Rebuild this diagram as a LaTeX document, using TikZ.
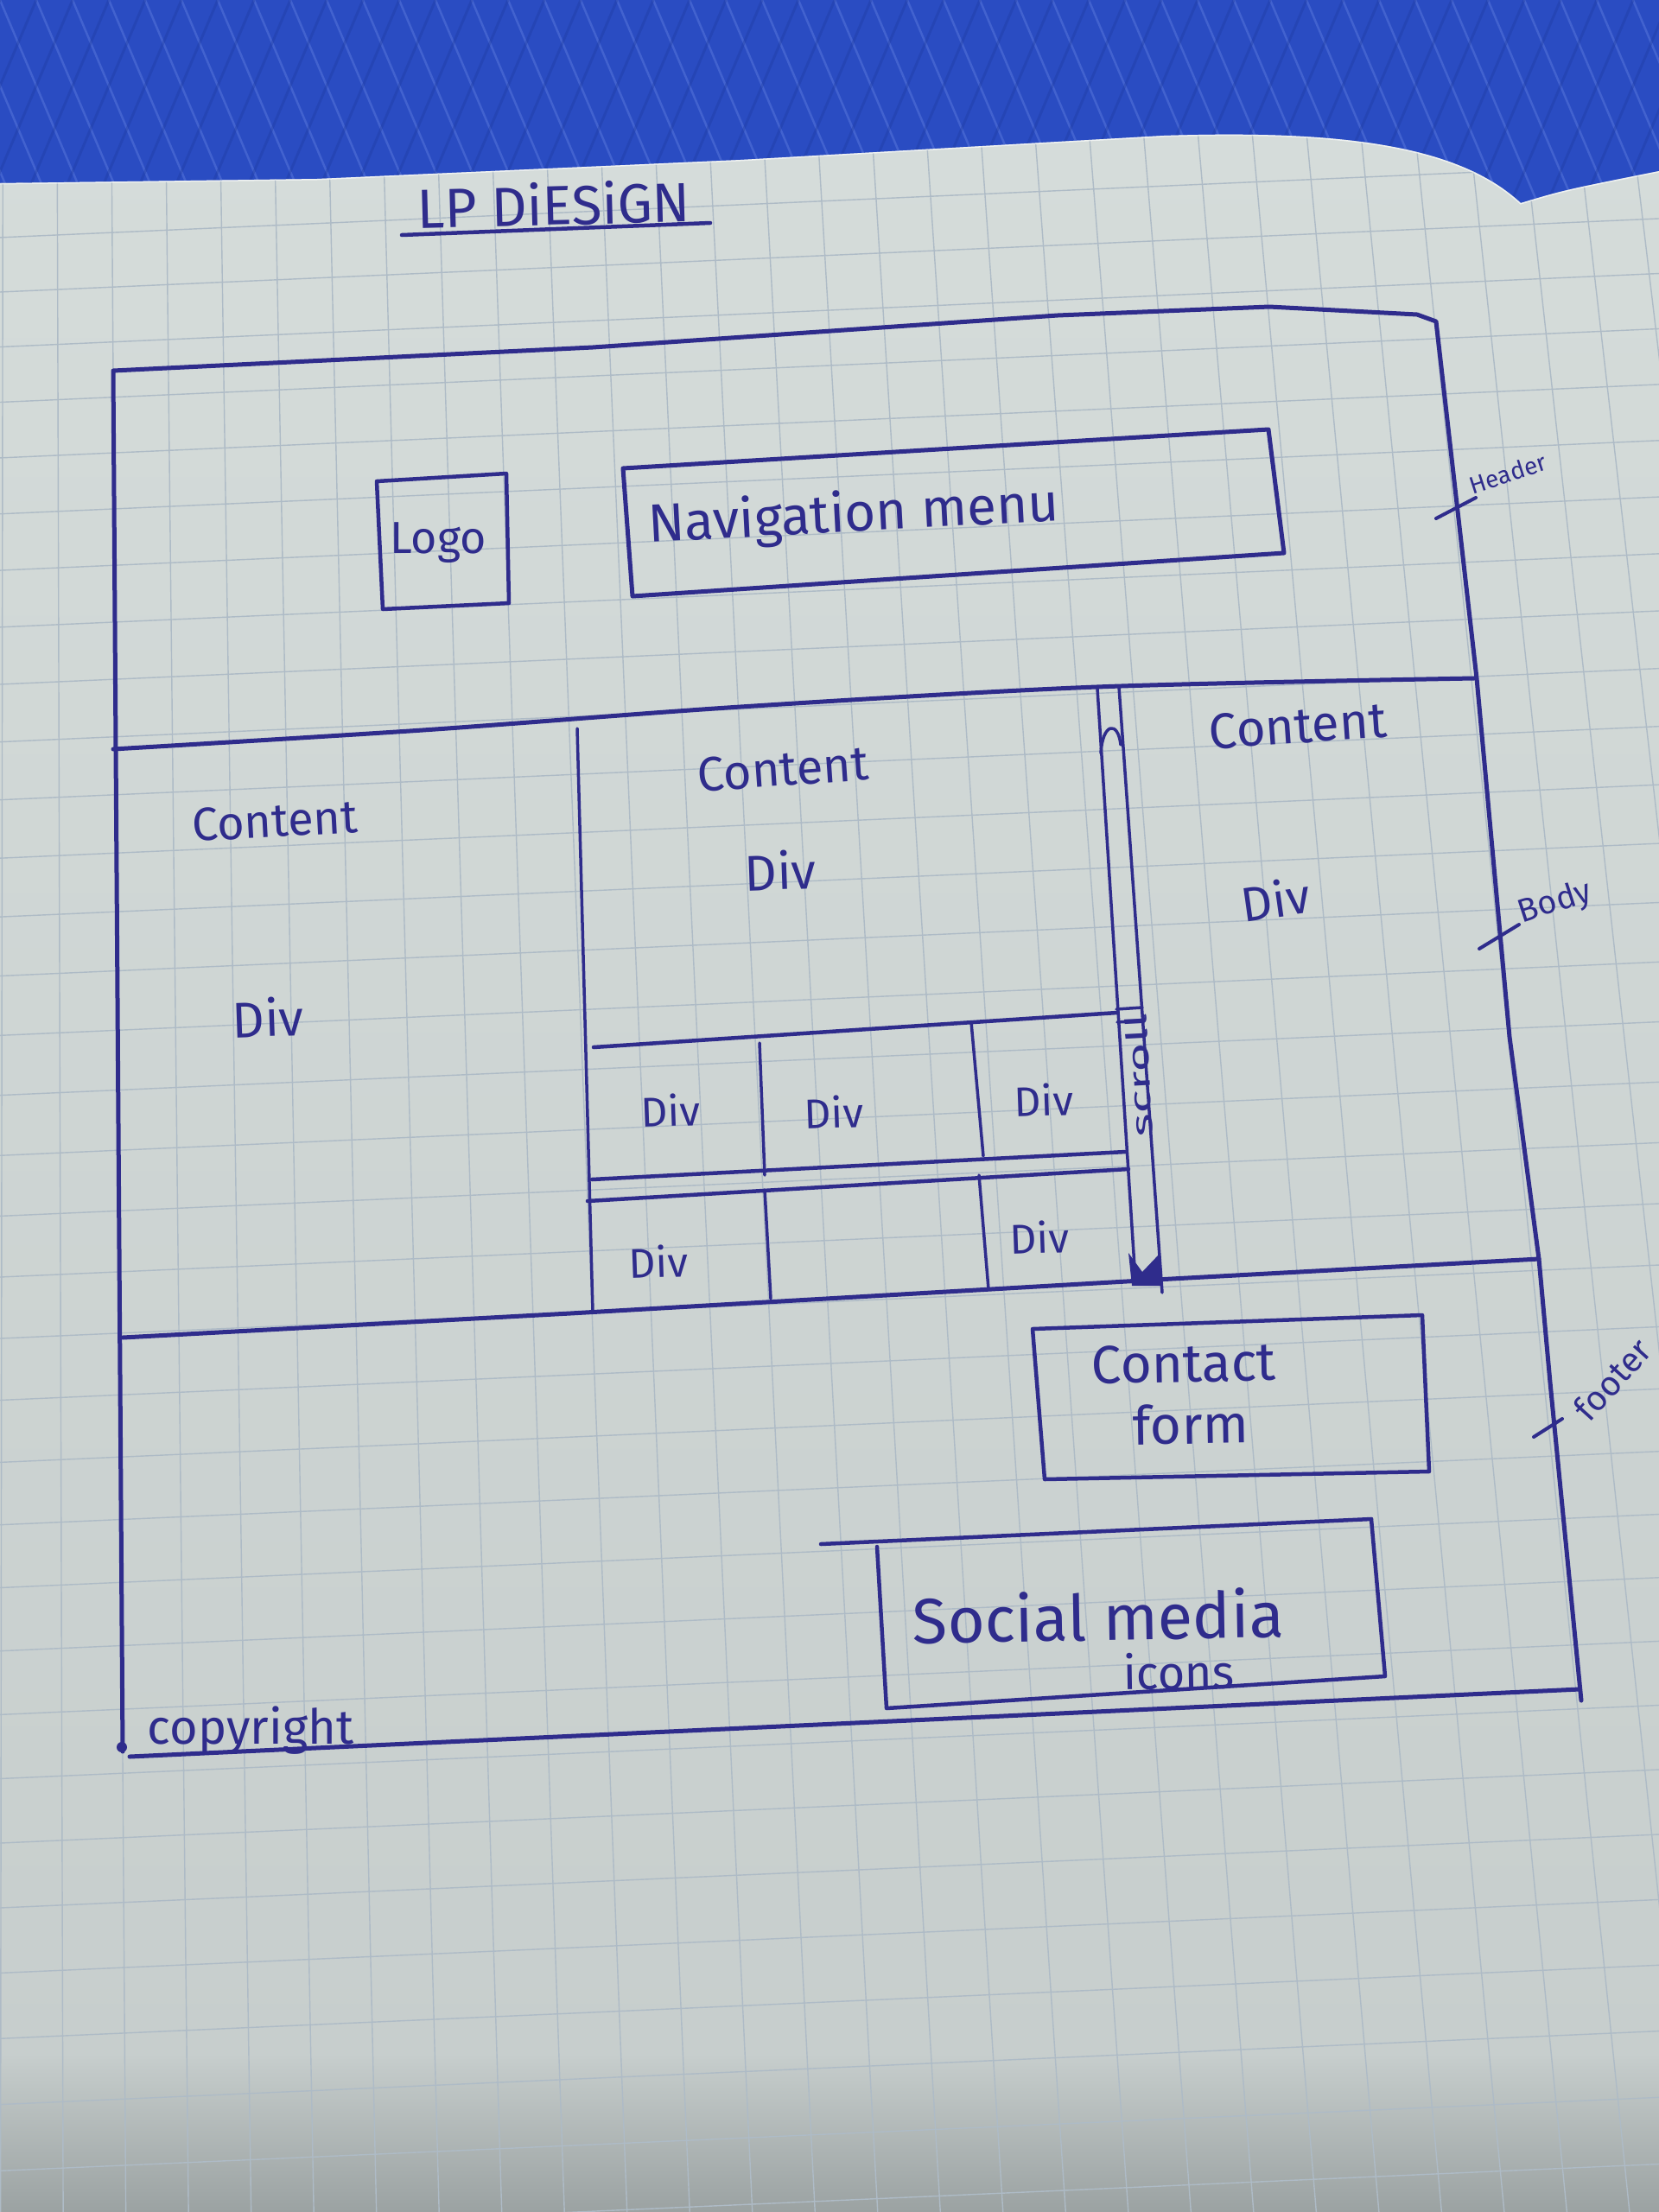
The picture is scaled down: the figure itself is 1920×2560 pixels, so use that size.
\documentclass[tikz,border=0pt]{standalone}
\usepackage{fontspec}
\setmainfont{Fira Sans}
\definecolor{inkc}{HTML}{2F2C8C}
\definecolor{papertop}{HTML}{D5DCDA}
\definecolor{paperbot}{HTML}{C6CDCC}
\definecolor{papershadow}{HTML}{9BA2A2}
\definecolor{gridc}{HTML}{AEBBC6}
\definecolor{mat}{HTML}{2A4CC2}
\definecolor{matlight}{HTML}{6F8CE8}
\definecolor{matdark}{HTML}{1E3A9E}
\begin{document}
\begin{tikzpicture}[x=1pt,y=-1pt,
  ink/.style={draw=inkc, line width=5pt, line cap=round, line join=round},
  thinink/.style={draw=inkc, line width=3.5pt, line cap=round, line join=round},
  hand/.style={text=inkc, inner sep=0pt, font=\fontsize{#1}{#1}\selectfont},
  gridline/.style={draw=gridc, line width=1.4pt}]
\useasboundingbox (0,0) rectangle (1920,2560);

% woven mat behind the notebook
\fill[mat] (0,0) rectangle (1920,260);
\begin{scope}
  \clip (0,0) rectangle (1920,260);
  \foreach \i in {-10,...,60}
    \draw[matlight, line width=2.5pt, opacity=0.35] (\i*42,0) -- ++(110,260);
  \foreach \i in {-2,...,70}
    \draw[matdark, line width=3pt, opacity=0.35] (\i*42,0) -- ++(-110,260);
\end{scope}

% notebook page
\shade[top color=papertop, bottom color=paperbot]
  (0,212) -- (367,207) -- (857,185) -- (1347,157)
  .. controls (1560,150) and (1690,170) .. (1760,235)
  .. controls (1810,220) .. (1920,198) -- (1920,2560) -- (0,2560) -- cycle;
\begin{scope}
  \clip (0,212) -- (367,207) -- (857,185) -- (1347,157)
  .. controls (1560,150) and (1690,170) .. (1760,235)
  .. controls (1810,220) .. (1920,198) -- (1920,2560) -- (0,2560) -- cycle;
  \shade[top color=paperbot, bottom color=papershadow] (0,2380) rectangle (1920,2560);
  % squared ruling
  \foreach \k in {0,...,38} {
    \pgfmathsetmacro\yy{150+\k*62+\k*\k*0.22}
    \draw[gridline] (0,\yy) -- (1920,\yy-85);
  }
  \foreach \i in {-4,...,30} {
    \pgfmathsetmacro\xa{21+(131+64*\i-21)*0.982}
    \pgfmathsetmacro\xb{21+(131+64*\i-21)*1.133}
    \draw[gridline] (\xa,150) -- (\xb,2560);
  }
  \draw[white, line width=3pt, opacity=0.6] (0,212) -- (367,207) -- (857,185) -- (1347,157)
    .. controls (1560,150) and (1690,170) .. (1760,235)
    .. controls (1810,220) .. (1920,198);
\end{scope}

% title
\node[hand=64, rotate=1.5] (title) at (641,236) {LP DiESiGN};
\draw[ink, line width=4.5pt] (465,272) -- (822,258);

% page frame: header / body / footer
\draw[ink] (142,2027) -- (131,429) -- (686,402) -- (1224,365) -- (1469,355)
  -- (1640,364) -- (1662,372)
  -- (1709,785) -- (1747,1200) -- (1781,1457) -- (1794,1600) -- (1830,1968);
\draw[ink] (150,2033) -- (1828,1955);
\fill[inkc] (141,2022) circle (6);
\draw[ink] plot[smooth] coordinates {(131,867) (489,845) (857,818) (1269,795) (1706,785)};
\draw[ink] (142,1548) -- (660,1520) -- (1356,1480) -- (1781,1457);

% header contents
\draw[ink, line width=4.5pt] (436,557) -- (586,548) -- (589,698) -- (443,705) -- cycle;
\node[hand=52] (logo) at (507,628) {Logo};
\draw[ink] (721,542) -- (1468,497) -- (1486,640) -- (732,690) -- cycle;
\node[hand=62, anchor=west, rotate=3] (nav) at (750,610) {Navigation menu};

% body columns
\draw[thinink] (668,843) -- (686,1518);
\node[hand=54, rotate=3] (contentL) at (318,950) {Content};
\node[hand=58, rotate=2] (divL) at (310,1177) {Div};
\node[hand=56, rotate=4] (contentM) at (906,890) {Content};
\node[hand=58, rotate=2] (divM) at (903,1007) {Div};
\node[hand=58, rotate=4] (contentR) at (1502,840) {Content};
\node[hand=56, rotate=8] (divR) at (1476,1040) {Div};

% scroll bar
\draw[thinink] (1270,797) -- (1314,1482);
\draw[thinink] (1295,795) -- (1345,1496);
\draw[thinink] (1274,872) .. controls (1276,836) and (1294,834) .. (1297,862);
\draw[thinink] (1292,1168) -- (1322,1166);
\draw[thinink] (1293,1183) -- (1323,1181);
\fill[inkc] (1306,1450) -- (1322,1472) -- (1341,1452) -- (1346,1488) -- (1310,1488) -- cycle;
\node[hand=34, rotate=93] (scroll) at (1318,1245) {\scalebox{1.7}[1]{scroll}};

% grid of divs
\draw[ink, line width=4.5pt] (687,1212) -- (1293,1172);
\draw[thinink] (879,1207) -- (885,1360);
\draw[thinink] (1124,1183) -- (1138,1338);
\draw[ink, line width=4.5pt] (685,1365) -- (1303,1333);
\draw[ink, line width=4.5pt] (680,1390) -- (1306,1353);
\draw[thinink] (885,1377) -- (892,1503);
\draw[thinink] (1133,1360) -- (1144,1492);
\node[hand=48, rotate=2] (div1) at (776,1285) {Div};
\node[hand=48, rotate=2] (div2) at (965,1287) {Div};
\node[hand=48, rotate=2] (div3) at (1208,1273) {Div};
\node[hand=48, rotate=2] (div4) at (762,1460) {Div};
\node[hand=48, rotate=2] (div5) at (1203,1432) {Div};

% footer contents
\draw[ink, line width=4.5pt] (1195,1538) -- (1646,1522) -- (1654,1703) -- (1209,1712) -- cycle;
\node[hand=62, rotate=1] (contact) at (1370,1578) {Contact};
\node[hand=62, rotate=1] (form) at (1378,1648) {form};
\draw[ink, line width=4.5pt] (950,1787) -- (1587,1758);
\draw[ink, line width=4.5pt] (1015,1790) -- (1026,1977) -- (1603,1940) -- (1587,1758);
\node[hand=74, rotate=1] (social) at (1271,1870) {Social media};
\node[hand=54, rotate=1] (icons) at (1364,1934) {icons};
\node[hand=56, anchor=base] (copyright) at (290,2018) {copyright};

% section markers on the right edge
\draw[ink, line width=4pt] (1662,600) -- (1708,576);
\node[hand=28, rotate=18] (header) at (1745,548) {Header};
\draw[ink, line width=4pt] (1712,1098) -- (1758,1070);
\node[hand=38, rotate=18] (body) at (1800,1045) {Body};
\draw[ink, line width=4pt] (1775,1663) -- (1808,1642);
\node[hand=40, rotate=48] (footer) at (1866,1596) {footer};
\end{tikzpicture}
\end{document}
